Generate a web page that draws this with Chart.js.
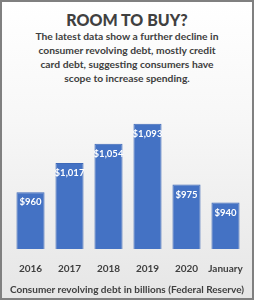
<!DOCTYPE html>
<html>
<head>
<meta charset="utf-8">
<script src="https://cdn.jsdelivr.net/npm/chart.js@4"></script>
<style>
  html, body { margin: 0; padding: 0; }
  body { width: 254px; height: 300px; overflow: hidden; font-family: Lato, 'Open Sans', sans-serif; }
  .frame {
    position: relative; box-sizing: border-box; width: 254px; height: 300px;
    border: 2px solid #808080;
    background: linear-gradient(#ffffff 0%, #f7f7f7 40%, #e6e6e6 100%);
    color: #404040;
  }
  .title { position: absolute; top: 8px; left: 0; right: 0; text-align: center; font-weight: 900; font-size: 16px; }
  .sub { position: absolute; top: 27px; left: 0; right: 0; text-align: center; font-weight: 700; font-size: 10.3px; line-height: 14px; }
  .caption { position: absolute; top: 281px; left: 0; right: 0; text-align: center; font-weight: 700; font-size: 10px; }
  .chart { position: absolute; left: 0; top: 103px; width: 250px; height: 180px; }
</style>
</head>
<body>
<div class="frame">
  <div class="title">ROOM TO BUY?</div>
  <div class="sub">The latest data show a further decline in<br>consumer revolving debt, mostly credit<br>card debt, suggesting consumers have<br>scope to increase spending.</div>
  <div class="chart"><canvas id="debtChart"></canvas></div>
  <div class="caption">Consumer revolving debt in billions (Federal Reserve)</div>
</div>
<script>
// Данные графика
const categories = ['2016', '2017', '2018', '2019', '2020', 'January'];
const debtValues = [960, 1017, 1054, 1093, 975, 940];

// Подписи значений внутри столбцов
const valueLabels = {
  id: 'valueLabels',
  afterDatasetsDraw(chart) {
    const ctx = chart.ctx;
    const meta = chart.getDatasetMeta(0);
    ctx.save();
    ctx.fillStyle = '#ffffff';
    ctx.font = "bold 9.5px Lato, 'Open Sans', sans-serif";
    ctx.textAlign = 'center';
    ctx.textBaseline = 'middle';
    meta.data.forEach(function(bar, i) {
      ctx.fillText('$' + debtValues[i].toLocaleString('en-US'), bar.x, bar.y + 10);
    });
    ctx.restore();
  }
};

new Chart(document.getElementById('debtChart'), {
  type: 'bar',
  data: {
    labels: categories,
    datasets: [{
      data: debtValues,
      backgroundColor: '#4472c4',
      borderColor: '#3e69b8',
      borderWidth: 1,
      barPercentage: 0.72,
      categoryPercentage: 1
    }]
  },
  options: {
    responsive: true,
    maintainAspectRatio: false,
    animation: false,
    layout: { padding: { left: 9, right: 7, top: 10, bottom: 4 } },
    plugins: {
      legend: { display: false },
      tooltip: { enabled: false }
    },
    scales: {
      x: {
        grid: { display: false },
        border: { display: false },
        ticks: {
          color: '#404040',
          padding: 6,
          maxRotation: 0,
          minRotation: 0,
          autoSkip: false,
          font: { family: "Lato, 'Open Sans', sans-serif", size: 10, weight: 'bold' }
        }
      },
      y: {
        display: false,
        min: 850,
        max: 1110
      }
    }
  },
  plugins: [valueLabels]
});
</script>
</body>
</html>
